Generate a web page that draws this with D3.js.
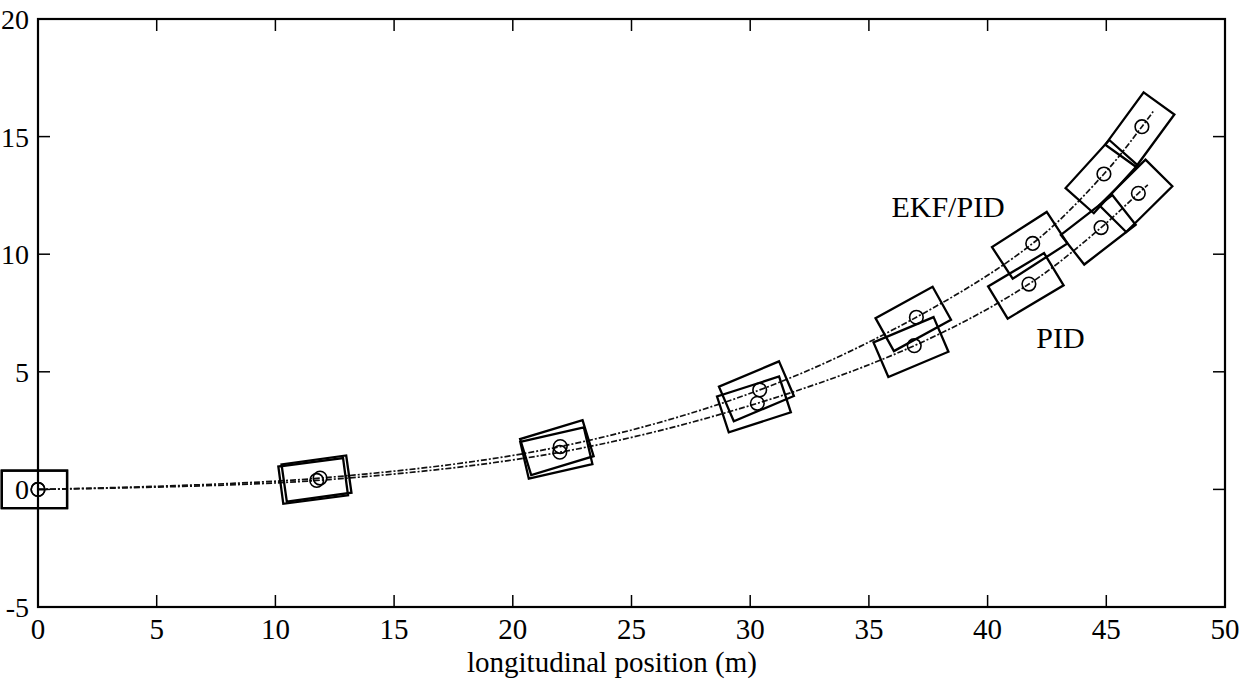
<!DOCTYPE html>
<html>
<head>
<meta charset="utf-8">
<script src="https://cdn.jsdelivr.net/npm/d3@7"></script>
<style>
  html, body { margin: 0; padding: 0; background: #fff; }
  svg { display: block; }
  text { font-family: "Liberation Serif", "Times New Roman", serif; fill: #000; }
</style>
</head>
<body>
<svg id="chart" width="1247" height="687"></svg>
<script>
// ---- data ----
const xTicks = [0, 5, 10, 15, 20, 25, 30, 35, 40, 45, 50];
const yTicks = [-5, 0, 5, 10, 15, 20];

// EKF/PID trajectory: sampled vehicle positions (m) and headings (deg)
const ekfX = [0, 11.88, 22.0, 30.4, 37.0, 41.9, 44.9, 46.5];
const ekfY = [0, 0.48, 1.82, 4.23, 7.32, 10.46, 13.41, 15.42];
const ekfHeading = [0, 8, 17, 23, 29, 33, 48, 54];
const ekfPathEnd = [47.0, 16.1];

// PID trajectory
const pidX = [0, 11.74, 21.98, 30.3, 36.91, 41.74, 44.78, 46.35];
const pidY = [0, 0.38, 1.58, 3.66, 6.11, 8.73, 11.13, 12.59];
const pidHeading = [0, 7.5, 13, 18, 23, 31, 38, 45];
const pidPathEnd = [46.75, 12.95];

const labels = [
  {text: "EKF/PID", x: 35.95, y: 11.58},
  {text: "PID", x: 42.05, y: 6.02}
];
const xLabel = "longitudinal position (m)";

// vehicle outline size (m)
const carLength = 2.75, carWidth = 1.6, carOffset = 0.15;

// ---- layout ----
const svg = d3.select("#chart");
const mLeft = 38, mRight = 1225, mTop = 19, mBottom = 607;
const x = d3.scaleLinear().domain([0, 50]).range([mLeft, mRight]);
const y = d3.scaleLinear().domain([-5, 20]).range([mBottom, mTop]);

function series(xs, ys, hs, end) {
  const pts = xs.map((d, i) => ({x: d, y: ys[i], h: hs[i]}));
  return {pts, line: pts.map(p => [p.x, p.y]).concat([end])};
}
const ekf = series(ekfX, ekfY, ekfHeading, ekfPathEnd);
const pid = series(pidX, pidY, pidHeading, pidPathEnd);

const lineGen = d3.line().x(d => x(d[0])).y(d => y(d[1])).curve(d3.curveCatmullRom.alpha(0.5));

const g = svg.append("g");

[ekf, pid].forEach(s => {
  g.append("path")
    .attr("d", lineGen(s.line))
    .attr("fill", "none")
    .attr("stroke", "#111")
    .attr("stroke-width", 1.7)
    .attr("stroke-dasharray", "6,2,2,2");
});

function corners(p) {
  const a = p.h * Math.PI / 180;
  const c = Math.cos(a), s = Math.sin(a);
  const cx = p.x - carOffset * c, cy = p.y - carOffset * s;
  const hl = carLength / 2, hw = carWidth / 2;
  return [[hl, hw], [hl, -hw], [-hl, -hw], [-hl, hw]].map(([u, v]) =>
    [x(cx + u * c - v * s), y(cy + u * s + v * c)]);
}
[ekf, pid].forEach(s => {
  g.selectAll(null).data(s.pts).enter().append("polygon")
    .attr("points", d => corners(d).map(q => q.join(",")).join(" "))
    .attr("fill", "none")
    .attr("stroke", "#000")
    .attr("stroke-width", 2.3)
    .attr("stroke-linejoin", "miter");
  g.selectAll(null).data(s.pts).enter().append("circle")
    .attr("cx", d => x(d.x)).attr("cy", d => y(d.y)).attr("r", 6.8)
    .attr("fill", "none").attr("stroke", "#000").attr("stroke-width", 1.6);
});

svg.append("rect")
  .attr("x", mLeft).attr("y", mTop)
  .attr("width", mRight - mLeft).attr("height", mBottom - mTop)
  .attr("fill", "none").attr("stroke", "#000").attr("stroke-width", 2.2);

const tl = 12;
const ticks = svg.append("g").attr("stroke", "#000").attr("stroke-width", 1.5);
xTicks.forEach(t => {
  ticks.append("line").attr("x1", x(t)).attr("x2", x(t)).attr("y1", mBottom).attr("y2", mBottom - tl);
  ticks.append("line").attr("x1", x(t)).attr("x2", x(t)).attr("y1", mTop).attr("y2", mTop + tl);
});
yTicks.forEach(t => {
  ticks.append("line").attr("y1", y(t)).attr("y2", y(t)).attr("x1", mLeft).attr("x2", mLeft + tl);
  ticks.append("line").attr("y1", y(t)).attr("y2", y(t)).attr("x1", mRight).attr("x2", mRight - tl);
});

svg.append("g").selectAll("text").data(xTicks).enter().append("text")
  .attr("x", d => x(d)).attr("y", 639)
  .attr("text-anchor", "middle").attr("font-size", 29)
  .text(d => d);
svg.append("g").selectAll("text").data(yTicks).enter().append("text")
  .attr("x", 29).attr("y", d => y(d) + 10)
  .attr("text-anchor", "end").attr("font-size", 28)
  .text(d => d);

svg.append("text")
  .attr("x", 612).attr("y", 672)
  .attr("text-anchor", "middle").attr("font-size", 29)
  .text(xLabel);

svg.append("g").selectAll("text").data(labels).enter().append("text")
  .attr("x", d => x(d.x)).attr("y", d => y(d.y))
  .attr("font-size", 30)
  .text(d => d.text);
</script>
</body>
</html>
